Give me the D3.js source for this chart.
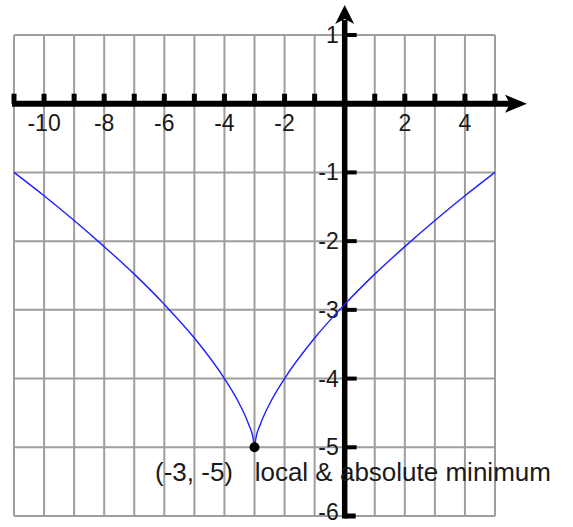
<!DOCTYPE html>
<html>
<head>
<meta charset="utf-8">
<script src="https://cdn.jsdelivr.net/npm/d3@7"></script>
<style>
    body { margin: 0; background: #fff; }
    text { font-family: Arial, "Liberation Sans", sans-serif; fill: #1a1a1a; }
</style>
</head>
<body>
<div id="graph"></div>
<script>
// curve, left and right branch of the cusp
var leftX = [-11, -10, -9, -8, -7, -6, -5, -4, -3.5, -3.2, -3.05, -3]
var leftY = [-1, -1.34, -1.7, -2.08, -2.48, -2.92, -3.41, -4, -4.37, -4.66, -4.86, -5]
var rightX = [-3, -2.95, -2.8, -2.5, -2, -1, 0, 1, 2, 3, 4, 5]
var rightY = [-5, -4.86, -4.66, -4.37, -4, -3.41, -2.92, -2.48, -2.08, -1.7, -1.34, -1]

var xTickLabels = [-10, -8, -6, -4, -2, 2, 4]
var yTickLabels = [1, -1, -2, -3, -4, -5, -6]
var minPoint = [-3, -5]
var minLabel = "(-3, -5)   local & absolute minimum"

var width = 573
var height = 527

var x = d3.scaleLinear().domain([-11, 5]).range([14, 495])
var y = d3.scaleLinear().domain([-6, 1]).range([516, 35])

var svg = d3.select("#graph")
    .append("svg")
    .attr("width", width)
    .attr("height", height)

// grid
svg.append("g")
    .selectAll("line")
    .data(d3.range(-11, 6))
    .enter()
    .append("line")
    .attr("x1", d => x(d)).attr("x2", d => x(d))
    .attr("y1", y(-6)).attr("y2", y(1))
    .attr("stroke", "#9e9e9e")
    .attr("stroke-width", 2)
svg.append("g")
    .selectAll("line")
    .data(d3.range(-6, 2))
    .enter()
    .append("line")
    .attr("y1", d => y(d)).attr("y2", d => y(d))
    .attr("x1", x(-11)).attr("x2", x(5))
    .attr("stroke", "#9e9e9e")
    .attr("stroke-width", 2)

// x axis with arrow
var x0 = x(0), y0 = y(0)
svg.append("line")
    .attr("x1", x(-11) - 2).attr("x2", 512)
    .attr("y1", y0).attr("y2", y0)
    .attr("stroke", "#000")
    .attr("stroke-width", 6)
svg.append("path")
    .attr("d", `M527,${y0} L505,${y0 - 9} L510,${y0} L505,${y0 + 9} Z`)
    .attr("fill", "#000")
svg.append("g")
    .selectAll("rect")
    .data(d3.range(-11, 6).filter(d => d != 0))
    .enter()
    .append("rect")
    .attr("x", d => x(d) - 2.5)
    .attr("y", y0 - 10)
    .attr("width", 5)
    .attr("height", 10)
    .attr("fill", "#000")

// y axis with arrow
svg.append("line")
    .attr("x1", x0).attr("x2", x0)
    .attr("y1", y(-6) + 2.5).attr("y2", 20)
    .attr("stroke", "#000")
    .attr("stroke-width", 5.5)
svg.append("path")
    .attr("d", `M${x0},5 L${x0 + 9.5},24 L${x0},19 L${x0 - 9.5},24 Z`)
    .attr("fill", "#000")
svg.append("g")
    .selectAll("rect")
    .data(d3.range(-6, 2).filter(d => d != 0))
    .enter()
    .append("rect")
    .attr("x", x0)
    .attr("y", d => y(d) - (d == -6 ? 2.5 : 2))
    .attr("width", d => d == -6 ? 11 : 12)
    .attr("height", d => d == -6 ? 5 : 4)
    .attr("fill", "#000")

// tick labels
svg.append("g")
    .selectAll("text")
    .data(xTickLabels)
    .enter()
    .append("text")
    .attr("x", d => x(d))
    .attr("y", 131)
    .attr("text-anchor", "middle")
    .attr("font-size", "23px")
    .text(d => d)
svg.append("g")
    .selectAll("text")
    .data(yTickLabels)
    .enter()
    .append("text")
    .attr("x", x0 - 6)
    .attr("y", d => y(d) + (d == -6 ? 4 : 8))
    .attr("text-anchor", "end")
    .attr("font-size", "23px")
    .text(d => d)

// curve
var line = d3.line()
    .x(d => x(d[0]))
    .y(d => y(d[1]))
    .curve(d3.curveMonotoneX)
svg.append("path")
    .datum(d3.zip(leftX, leftY))
    .attr("d", line)
    .attr("fill", "none")
    .attr("stroke", "#1f1fff")
    .attr("stroke-width", 1.4)
svg.append("path")
    .datum(d3.zip(rightX, rightY))
    .attr("d", line)
    .attr("fill", "none")
    .attr("stroke", "#1f1fff")
    .attr("stroke-width", 1.4)

// minimum point and its note
svg.append("circle")
    .attr("cx", x(minPoint[0]))
    .attr("cy", y(minPoint[1]))
    .attr("r", 5)
    .attr("fill", "#000")
svg.append("text")
    .attr("x", 155)
    .attr("y", 481)
    .attr("font-size", "26px")
    .style("white-space", "pre")
    .text(minLabel)
</script>
</body>
</html>
